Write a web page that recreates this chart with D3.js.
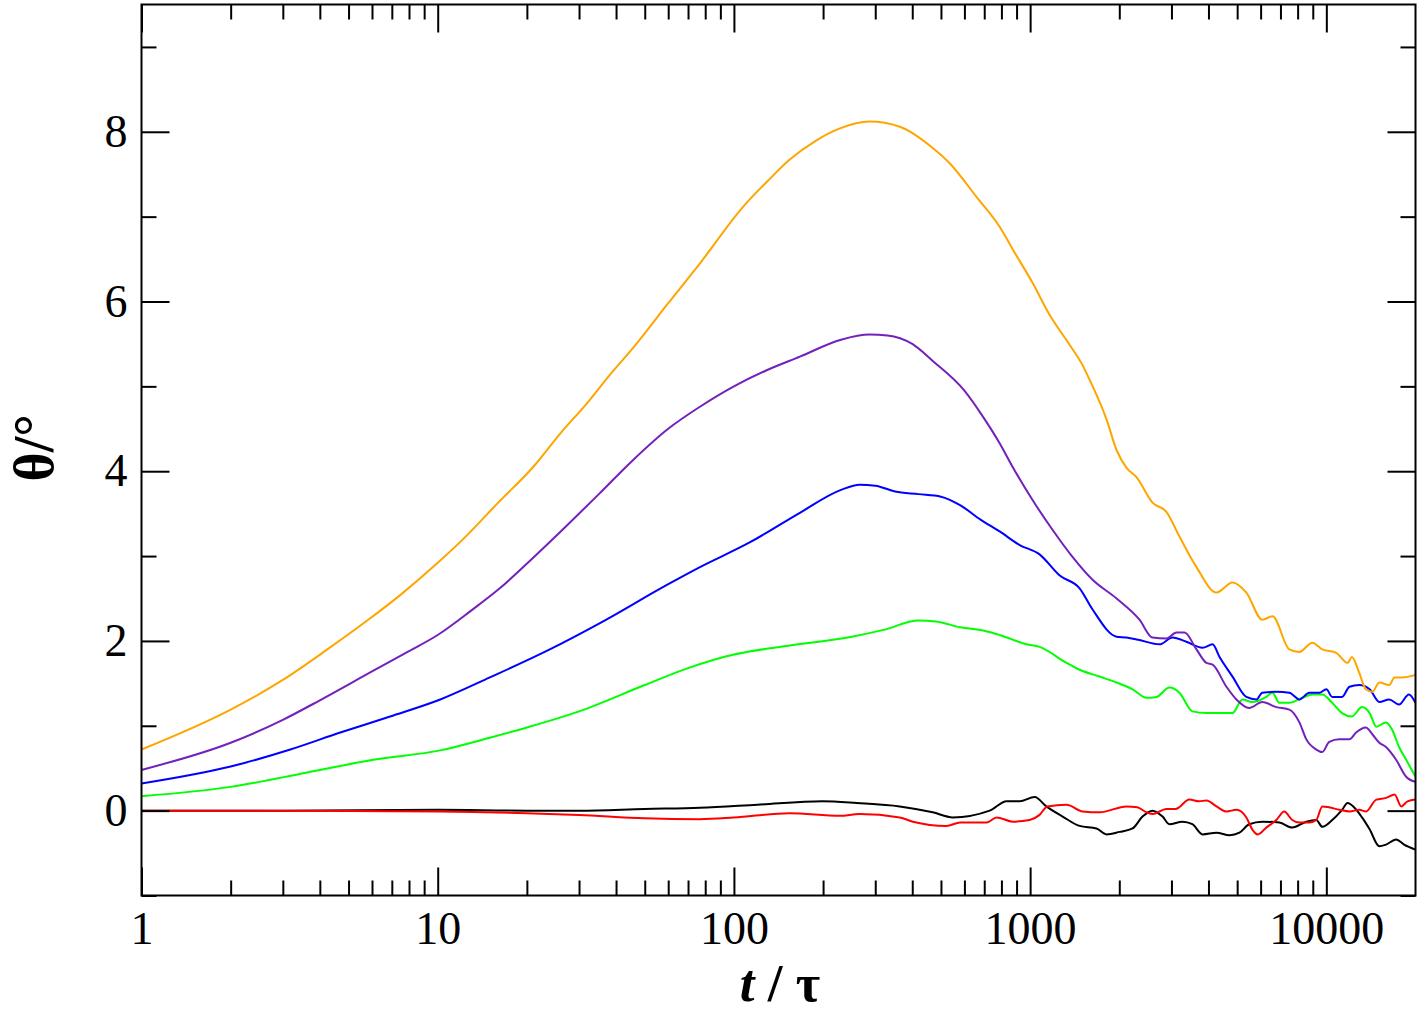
<!DOCTYPE html>
<html><head><meta charset="utf-8">
<script src="https://cdn.jsdelivr.net/npm/d3@7/dist/d3.min.js"></script>
<style>
html,body{margin:0;padding:0;background:#fff;}
svg{display:block;}
.tick text{font-family:"Liberation Serif","Times New Roman",serif;font-size:46px;fill:#000;}
</style></head>
<body>
<svg id="chart" width="1421" height="1013"></svg>
<script>
// ---- data ----
const xMajorTicks = [1, 10, 100, 1000, 10000];
const yMajorTicks = [0, 2, 4, 6, 8];
const yMinorTicks = [-1, 1, 3, 5, 7, 9];

const orangeT = [1,2,3,4.24,5.78,7.47,10,12.6,16,21,26,31.9,38,45.6,60,76.8,107,130,154,190,228,287,363,469,535,660,789,875,1019,1164,1359,1503,1587,1811,1958,2116,2286,2588,2884,3192,3644,4257,4822,5370,6080,6580,7500,8110,8970,9690,10800,11800,12200,12900,13600,14300,15100,16300,17000,18000,20000];
const orangeV = [0.72,1.19,1.54,1.90,2.24,2.54,2.92,3.25,3.63,4.05,4.45,4.80,5.13,5.45,5.98,6.45,7.11,7.42,7.67,7.90,8.04,8.12,8.06,7.81,7.63,7.23,6.88,6.61,6.22,5.84,5.49,5.25,5.08,4.61,4.25,4.04,3.93,3.63,3.52,3.23,2.87,2.57,2.69,2.57,2.25,2.29,1.90,1.87,1.98,1.90,1.86,1.74,1.81,1.63,1.43,1.40,1.51,1.48,1.57,1.57,1.60];

const purpleT = [1,2,3,4,6,8,10,13,16.2,21,27.3,35,45.6,60,76.8,100,129,167,230,287,330,400,469,600,700,789,873,1019,1190,1390,1625,1958,2340,2588,2884,3120,3320,3644,3940,4130,4600,4970,5490,6080,6780,7500,8110,8560,9250,9690,10230,11070,11970,12600,13600,14300,15100,15900,17200,18600,20000];
const purpleV = [0.48,0.80,1.07,1.30,1.64,1.88,2.07,2.36,2.62,2.98,3.36,3.73,4.13,4.50,4.76,5.00,5.19,5.35,5.55,5.61,5.60,5.50,5.30,4.95,4.62,4.33,4.05,3.66,3.31,2.99,2.72,2.50,2.25,2.04,2.03,2.10,2.10,1.90,1.74,1.72,1.46,1.31,1.21,1.28,1.22,1.19,1.04,0.84,0.72,0.69,0.81,0.84,0.84,0.92,0.98,0.90,0.80,0.75,0.60,0.40,0.34];

const blueT = [1,2,3.18,4.69,6.91,10.2,15,23.9,35.3,59.4,76.8,113,167,230,266,300,350,420,500,580,680,789,922,1076,1259,1469,1625,1958,2116,2340,2734,3025,3370,3820,4130,4360,4822,5370,5810,6080,6780,7500,8110,8760,9470,10000,10470,11300,11970,12900,14000,15100,16300,17600,19000,20000];
const blueV = [0.32,0.52,0.72,0.92,1.11,1.31,1.57,1.90,2.21,2.66,2.87,3.16,3.51,3.78,3.84,3.83,3.76,3.73,3.70,3.60,3.43,3.29,3.13,3.02,2.77,2.62,2.37,2.05,2.04,2.01,1.96,2.04,1.99,1.92,1.96,1.81,1.58,1.34,1.31,1.39,1.40,1.39,1.31,1.39,1.39,1.43,1.34,1.34,1.46,1.48,1.43,1.28,1.31,1.25,1.37,1.27];

const greenT = [1,2,3.63,6.06,10.2,15,20,30,50,70,100,130,150,250,320,420,480,580,700,789,973,1076,1328,1469,1714,1958,2217,2473,2673,2951,3192,3530,3940,4360,4822,5210,5620,6270,6580,6940,7500,8300,8970,9690,10470,11300,12200,13200,14000,14750,15900,16700,17600,18600,20000];
const greenV = [0.17,0.28,0.45,0.60,0.71,0.86,0.98,1.17,1.48,1.68,1.84,1.91,1.94,2.05,2.13,2.24,2.23,2.16,2.12,2.07,1.96,1.93,1.74,1.66,1.58,1.51,1.43,1.33,1.34,1.45,1.39,1.17,1.15,1.15,1.15,1.31,1.28,1.34,1.39,1.27,1.27,1.33,1.37,1.37,1.27,1.15,1.11,1.22,1.15,0.99,1.04,0.95,0.75,0.60,0.40];

const blackT = [1,3,10,20,30,50,76.8,120,199,260,363,469,548,730,833,922,1036,1134,1288,1469,1675,1811,2005,2217,2395,2588,2800,2951,3265,3530,3820,4257,4710,5090,5490,6080,6940,7670,8560,9250,9690,10470,11300,11800,12400,13200,14000,15100,15900,17200,18300,20000];
const blackV = [0,0,0.01,0,0,0.02,0.035,0.07,0.11,0.09,0.05,-0.02,-0.08,0,0.11,0.11,0.16,0.05,-0.07,-0.18,-0.21,-0.28,-0.25,-0.21,-0.07,0,-0.07,-0.16,-0.13,-0.16,-0.28,-0.26,-0.29,-0.26,-0.16,-0.13,-0.14,-0.20,-0.13,-0.11,-0.19,-0.11,0.01,0.09,0.04,-0.08,-0.22,-0.42,-0.40,-0.34,-0.40,-0.46];

const redT = [1,5,10,20,30,50,76.8,100,154,228,265,363,402,522,580,713,771,873,996,1076,1143,1328,1503,1714,2116,2300,2473,2600,2884,3100,3450,3720,3940,4257,4600,4970,5370,5620,5870,6270,6780,7210,7670,8110,8760,9250,9690,10200,11070,12000,12900,13600,14750,15900,17000,17900,18800,20000];
const redV = [0,-0.005,-0.01,-0.03,-0.05,-0.09,-0.10,-0.08,-0.03,-0.06,-0.04,-0.08,-0.13,-0.18,-0.14,-0.14,-0.08,-0.13,-0.11,-0.05,0.05,0.07,-0.01,-0.02,0.05,0.04,-0.02,-0.04,0.02,0.02,0.13,0.11,0.12,0.05,-0.01,0.01,-0.08,-0.22,-0.28,-0.20,-0.11,-0.01,-0.11,-0.14,-0.14,-0.11,0.05,0.04,0.01,-0.01,0.01,-0.01,0.13,0.15,0.19,0.05,0.11,0.13];

const seriesList = [
  {t: blackT,  v: blackV,  color: "#000000"},
  {t: redT,    v: redV,    color: "#ff0000"},
  {t: greenT,  v: greenV,  color: "#00ff00"},
  {t: blueT,   v: blueV,   color: "#0000ff"},
  {t: purpleT, v: purpleV, color: "#7221bc"},
  {t: orangeT, v: orangeV, color: "#ffa500"}
];

// ---- layout ----
const svg = d3.select("#chart");
const L = 141.5, R = 1415.5, T = 4.5, B = 895.5;
const x = d3.scaleLog().domain([1, 20000]).range([L, R]);
const y = d3.scaleLinear().domain([-1, 9.5]).range([B, T]);

const xMinor = [];
for (let d = 1; d <= 10000; d *= 10) for (let k = 2; k <= 9; k++) if (d * k < 20000) xMinor.push(d * k);

const gPlot = svg.append("g");
const line = d3.line().x(d => x(d[0])).y(d => y(d[1])).curve(d3.curveMonotoneX);
seriesList.forEach(s => {
  gPlot.append("path")
    .datum(s.t.map((t, i) => [t, s.v[i]]))
    .attr("d", line)
    .attr("fill", "none")
    .attr("stroke", s.color)
    .attr("stroke-width", 2)
    .attr("stroke-linejoin", "round");
});

function styleAxis(g) {
  g.select(".domain").remove();
  g.selectAll(".tick line").attr("stroke", "#000").attr("stroke-width", 2);
}
// bottom
svg.append("g").attr("transform", `translate(0,${B})`)
  .call(d3.axisBottom(x).tickValues(xMajorTicks).tickSize(-28).tickPadding(16).tickFormat(d3.format("d")))
  .call(styleAxis);
svg.append("g").attr("transform", `translate(0,${B})`)
  .call(d3.axisBottom(x).tickValues(xMinor).tickSize(-15).tickFormat(""))
  .call(styleAxis);
// top
svg.append("g").attr("transform", `translate(0,${T})`)
  .call(d3.axisTop(x).tickValues(xMajorTicks).tickSize(-28).tickFormat(""))
  .call(styleAxis);
svg.append("g").attr("transform", `translate(0,${T})`)
  .call(d3.axisTop(x).tickValues(xMinor).tickSize(-15).tickFormat(""))
  .call(styleAxis);
// left
svg.append("g").attr("transform", `translate(${L},0)`)
  .call(d3.axisLeft(y).tickValues(yMajorTicks).tickSize(-28).tickPadding(14).tickFormat(d3.format("d")))
  .call(styleAxis);
svg.append("g").attr("transform", `translate(${L},0)`)
  .call(d3.axisLeft(y).tickValues(yMinorTicks).tickSize(-15).tickFormat(""))
  .call(styleAxis);
// right
svg.append("g").attr("transform", `translate(${R},0)`)
  .call(d3.axisRight(y).tickValues(yMajorTicks).tickSize(-28).tickFormat(""))
  .call(styleAxis);
svg.append("g").attr("transform", `translate(${R},0)`)
  .call(d3.axisRight(y).tickValues(yMinorTicks).tickSize(-15).tickFormat(""))
  .call(styleAxis);

// frame
svg.append("rect").attr("x", L).attr("y", T).attr("width", R - L).attr("height", B - T)
  .attr("fill", "none").attr("stroke", "#000").attr("stroke-width", 2);

// titles
const xt = svg.append("text").attr("x", 780).attr("y", 1001).attr("text-anchor", "middle")
  .style("font-family", '"Liberation Serif",serif').style("font-size", "53px").style("font-weight", "bold");
xt.append("tspan").style("font-style", "italic").text("t");
xt.append("tspan").text(" / τ");

svg.append("text").attr("transform", "translate(53,448) rotate(-90)").attr("text-anchor", "middle")
  .style("font-family", '"Liberation Serif",serif').style("font-size", "56px").style("font-weight", "bold")
  .text("θ/°");
</script>
</body></html>
